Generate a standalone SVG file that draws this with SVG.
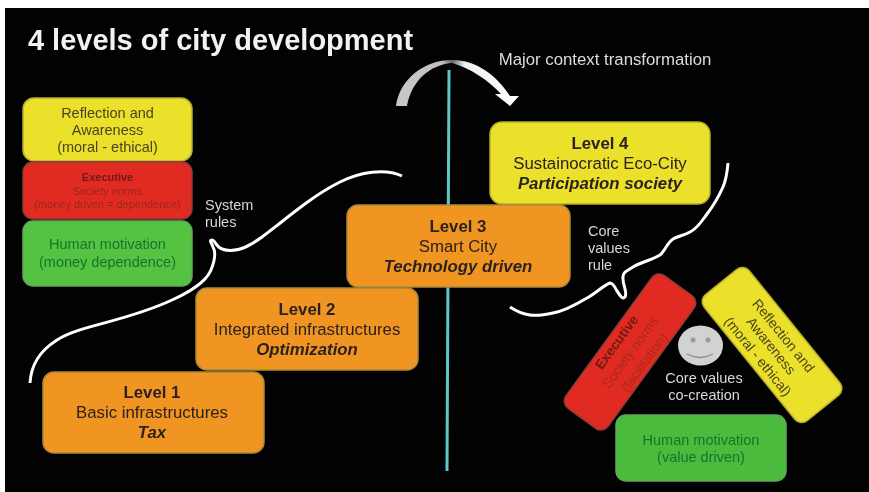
<svg xmlns="http://www.w3.org/2000/svg" width="869" height="492" viewBox="0 0 869 492">
<style>
text{font-family:"Liberation Sans",Arial,sans-serif;text-anchor:middle}
.box{stroke-width:1.5}
.or{fill:#f09520;stroke:#a98a38}
.ye{fill:#ebe02b;stroke:#b5ae30}
.re{fill:#e12c20;stroke:#8f3a3a}
.gr{fill:#55c243;stroke:#62a85a}
.lv{font-size:16.800px;fill:#2c2020}
.b{font-weight:bold}
.i{font-weight:bold;font-style:italic}
.dg{font-size:14.500px;fill:#14752a}
.dy{font-size:14.500px;fill:#4a4520}
.w{font-size:14.500px;fill:#d8d8d8}
.s{text-anchor:start}
.ex{font-size:11px;fill:#9a2620}
.cv{fill:none;stroke:#fff;stroke-width:3;stroke-linecap:butt;stroke-linejoin:round}
</style>
<defs>
<filter id="soft" x="-5%" y="-5%" width="110%" height="110%"><feGaussianBlur stdDeviation="0.45"/></filter>
<linearGradient id="arc" x1="396" x2="518" y1="0" y2="0" gradientUnits="userSpaceOnUse">
<stop offset="0" stop-color="#c8c8c8"/><stop offset="0.38" stop-color="#c0c0c0"/><stop offset="0.46" stop-color="#666"/><stop offset="0.56" stop-color="#eee"/><stop offset="1" stop-color="#fff"/>
</linearGradient>
</defs>
<rect width="869" height="492" fill="#fff"/>
<rect x="5" y="8" width="864" height="484" fill="#020203"/>
<g filter="url(#soft)">
<text id="title" x="220.500" y="50" style="font-size:29px;font-weight:bold;fill:#f2f2f2">4 levels of city development</text>

<g id="connectors">
<path class="cv" d="M30 383C31 366 38 352 57 340C80 325 125 322 172 300C192 291 206 282 211 270C215 260 216 252 213 247C211 242 209 240 212 240C215 240 216 247 222 249C235 254 250 246 262 237C285 220 310 197 340 182C360 172 385 168 402 176"/>
<path class="cv" d="M728 163C727 175 726 180 723 187C718 198 714 205 707 214C701 222 698 228 690 232C683 236 678 236 673 239C667 243 665 251 660 255C652 260 641 262 633 267C627 271 623 272 623 277C622 284 628 292 625 297C622 300 620 295 617 291C615 287 613 283 610 283C604 285 596 293 587 298C577 304 565 311 553 313C544 315 537 316 530 315C522 314 516 311 510 307"/>
<line x1="449" y1="70" x2="447" y2="471" stroke="#5cc8c8" stroke-width="3"/>
<path d="M396 106C400 78 425 60 452 60C477 60 497 76 510 96L519 96L510 106L495 94L501 94C488 80 470 68 452 63C430 65 412 80 407 106Z" fill="url(#arc)"/>
</g>

<text id="major" x="605" y="65" style="font-size:16.800px;fill:#dcdcdc">Major context transformation</text>

<g id="reflection-top">
<rect class="box ye" x="23" y="98" width="169" height="63" rx="11"/>
<text class="dy" x="107.500" y="118">Reflection and</text>
<text class="dy" x="107.500" y="135">Awareness</text>
<text class="dy" x="107.500" y="152">(moral - ethical)</text>
</g>
<g id="executive-top">
<rect class="box re" x="23" y="162" width="169" height="57" rx="10"/>
<text class="ex b" x="107.500" y="181" style="fill:#701a18">Executive</text>
<text class="ex" x="107.500" y="195">Society norms</text>
<text class="ex" x="107.500" y="208">(money driven = dependence)</text>
</g>
<g id="motivation-top">
<rect class="box gr" x="23" y="221" width="169" height="65" rx="10"/>
<text class="dg" x="107.500" y="249">Human motivation</text>
<text class="dg" x="107.500" y="267">(money dependence)</text>
</g>
<g id="system-rules">
<text class="w s" x="205" y="210">System</text>
<text class="w s" x="205" y="227">rules</text>
</g>

<g id="level1">
<rect class="box or" x="43" y="372" width="221" height="81" rx="11"/>
<text class="lv b" x="152" y="398">Level 1</text>
<text class="lv" x="152" y="418">Basic infrastructures</text>
<text class="lv i" x="152" y="438">Tax</text>
</g>
<g id="level2">
<rect class="box or" x="196" y="288" width="222" height="82" rx="11"/>
<text class="lv b" x="307" y="315">Level 2</text>
<text class="lv" x="307" y="335">Integrated infrastructures</text>
<text class="lv i" x="307" y="355">Optimization</text>
</g>
<g id="level3">
<rect class="box or" x="347" y="205" width="223" height="82" rx="11"/>
<text class="lv b" x="458" y="232">Level 3</text>
<text class="lv" x="458" y="252">Smart City</text>
<text class="lv i" x="458" y="272">Technology driven</text>
</g>
<g id="level4">
<rect class="box ye" x="490" y="122" width="220" height="82" rx="12"/>
<text class="lv b" x="600" y="149">Level 4</text>
<text class="lv" x="600" y="169">Sustainocratic Eco-City</text>
<text class="lv i" x="600" y="189">Participation society</text>
</g>

<g id="core-values-rule">
<text class="w s" x="588" y="236">Core</text>
<text class="w s" x="588" y="253">values</text>
<text class="w s" x="588" y="270">rule</text>
</g>

<g id="executive-bottom" transform="translate(630 352) rotate(-54)">
<rect class="box re" x="-82" y="-26" width="164" height="52" rx="9"/>
<text x="0" y="-12" style="font-size:13.500px;font-weight:bold;fill:#6e1a16">Executive</text>
<text x="0" y="5" style="font-size:13.500px;fill:#a82a20">Society norms</text>
<text x="0" y="22" style="font-size:13.500px;fill:#a82a20">(facilitation)</text>
</g>
<g id="reflection-bottom" transform="translate(772 345) rotate(51)">
<rect class="box ye" x="-81" y="-29" width="162" height="58" rx="9"/>
<text class="dy" x="0" y="-10" style="font-size:14px">Reflection and</text>
<text class="dy" x="0" y="6" style="font-size:14px">Awareness</text>
<text class="dy" x="0" y="23" style="font-size:14px">(moral - ethical)</text>
</g>
<g id="motivation-bottom">
<rect class="box gr" x="616" y="415" width="170" height="66" rx="10" style="fill:#4cbb3e"/>
<text class="dg" x="701" y="445">Human motivation</text>
<text class="dg" x="701" y="462">(value driven)</text>
</g>
<g id="core-values-cocreation">
<ellipse cx="700.500" cy="345.500" rx="22.500" ry="20" fill="#d2d2d2"/>
<ellipse cx="693" cy="340" rx="2.500" ry="2.500" fill="#9a9a9a"/>
<ellipse cx="708" cy="340" rx="2.500" ry="2.500" fill="#9a9a9a"/>
<path d="M687 354Q700 361 713 354" fill="none" stroke="#8a8a8a" stroke-width="1.300"/>
<text class="w" x="704" y="383">Core values</text>
<text class="w" x="704" y="400">co-creation</text>
</g>
</g>
</svg>
